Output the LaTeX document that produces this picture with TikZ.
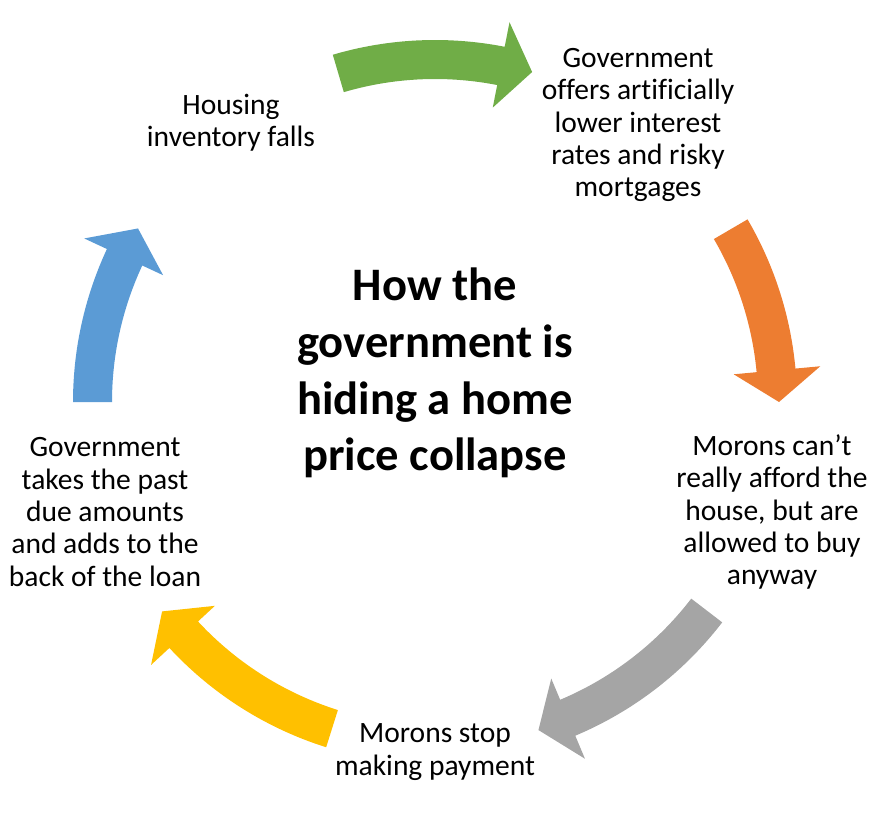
\documentclass[tikz,border=0pt]{standalone}
\usepackage{fontspec}
\setmainfont{Carlito}[Ligatures=NoCommon]
\definecolor{cgreen}{HTML}{70AD47}
\definecolor{corange}{HTML}{ED7D31}
\definecolor{cgray}{HTML}{A5A5A5}
\definecolor{cyellow}{HTML}{FFC000}
\definecolor{cblue}{HTML}{5B9BD5}
\tikzset{
  lbl/.style={align=center, font=\fontsize{16.8}{18.4}\selectfont, inner sep=0pt},
  ttl/.style={align=center, font=\bfseries\fontsize{26.5}{32.3}\selectfont, inner sep=0pt}
}
\newcommand\cyclearrow[3]{%
  \pgfmathsetmacro\arrB{#3+5.3}%
  \fill[#1] plot[domain=#2:\arrB, samples=40] (\x:362) -- (\arrB:387) -- (#3:344)
    -- (\arrB:300) -- (\arrB:323) -- plot[domain=\arrB:#2, samples=40] (\x:323) -- cycle;}
\begin{document}
\begin{tikzpicture}[x=0.02cm,y=0.02cm]
\useasboundingbox (0,0) rectangle (885,819);
\begin{scope}[shift={(435,417)}]
  \cyclearrow{cgreen}{106.4}{73.6}
  \cyclearrow{corange}{30.3}{0}
  \cyclearrow{cgray}{-37.5}{-72.5}
  \cyclearrow{cyellow}{252.5}{217.5}
  \cyclearrow{cblue}{180}{149.7}
\end{scope}
\node[ttl] (title) at (435,446) {How the\\government is\\hiding a home\\price collapse};
\node[lbl] (n1) at (231,696) {Housing\\inventory falls};
\node[lbl] (n2) at (638,694) {Government\\offers artificially\\lower interest\\rates and risky\\mortgages};
\node[lbl] (n3) at (772,307) {Morons can’t\\really afford the\\house, but are\\allowed to buy\\anyway};
\node[lbl] (n4) at (435,67) {Morons stop\\making payment};
\node[lbl] (n5) at (105,307) {Government\\takes the past\\due amounts\\and adds to the\\back of the loan};
\end{tikzpicture}
\end{document}
